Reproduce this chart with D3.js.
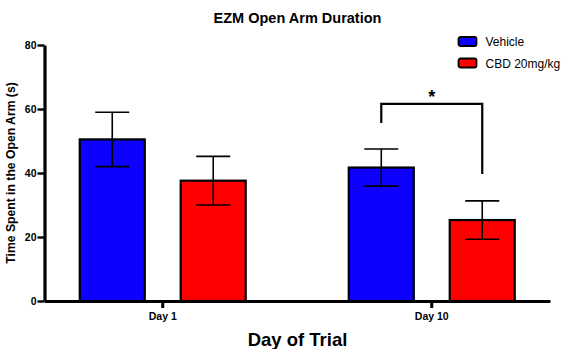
<!DOCTYPE html>
<html>
<head>
<meta charset="utf-8">
<script src="https://cdn.jsdelivr.net/npm/d3@7"></script>
<style>
  html, body { margin: 0; padding: 0; background: #fff; }
  svg { display: block; font-family: "Liberation Sans", Arial, Helvetica, sans-serif; }
</style>
</head>
<body>
<svg id="chart" width="564" height="349"></svg>
<script>
// Chart data
const days = ["Day 1", "Day 10"];
const groups = ["Vehicle", "CBD 20mg/kg"];
const groupColors = ["#0d00ff", "#ff0000"];
const means = [[50.5, 37.6], [41.7, 25.3]];   // [day][group]
const sems  = [[8.5, 7.6], [5.8, 6.0]];
const yTicks = [0, 20, 40, 60, 80];
// Significance bracket on Day 10: top level and the two leg ends
const sigDay = "Day 10";
const sigTop = 61.6;
const sigLegEnds = [55.6, 39.7];
const sigLabel = "*";

const svg = d3.select("#chart");
const m = { left: 44.5, right: 550, top: 45, bottom: 301 };

const y = d3.scaleLinear().domain([0, 80]).range([m.bottom, m.top]);
const x0 = d3.scaleBand().domain(days).range([m.left, m.right]).paddingInner(0.383).paddingOuter(0.131);
const x1 = d3.scaleBand().domain(groups).range([0, x0.bandwidth()]).paddingInner(0.356);

// Bars
const dayG = svg.selectAll("g.day").data(days).enter().append("g")
  .attr("class", "day")
  .attr("transform", d => `translate(${x0(d)},0)`);

dayG.each(function(day, di) {
  const g = d3.select(this);
  groups.forEach((grp, gi) => {
    const bx = x1(grp), bw = x1.bandwidth();
    const v = means[di][gi], e = sems[di][gi];
    g.append("rect")
      .attr("x", bx).attr("y", y(v))
      .attr("width", bw).attr("height", y(0) - y(v))
      .attr("fill", groupColors[gi])
      .attr("stroke", "#000").attr("stroke-width", 2.2);
    const cx = bx + bw / 2, cap = 17;
    const eg = g.append("g").attr("stroke", "#000").attr("stroke-width", 1.6);
    eg.append("line").attr("x1", cx).attr("x2", cx).attr("y1", y(v + e)).attr("y2", y(v - e));
    eg.append("line").attr("x1", cx - cap).attr("x2", cx + cap).attr("y1", y(v + e)).attr("y2", y(v + e));
    eg.append("line").attr("x1", cx - cap).attr("x2", cx + cap).attr("y1", y(v - e)).attr("y2", y(v - e));
  });
});

// Y axis
const yAxis = svg.append("g")
  .attr("transform", `translate(${m.left},0)`)
  .call(d3.axisLeft(y).tickValues(yTicks).tickSize(7).tickSizeOuter(0).tickPadding(1));
yAxis.select(".domain").attr("stroke", "#000").attr("stroke-width", 3.2);
yAxis.selectAll(".tick line").attr("stroke", "#000").attr("stroke-width", 2.4);
yAxis.selectAll(".tick text").attr("fill", "#000").attr("font-size", 10.5).attr("font-weight", "bold")
  .attr("font-family", "Liberation Sans, Arial, sans-serif");

// X axis
const xAxis = svg.append("g")
  .attr("transform", `translate(0,${m.bottom})`)
  .call(d3.axisBottom(x0).tickSize(7).tickSizeOuter(0).tickPadding(5));
xAxis.select(".domain").attr("stroke", "#000").attr("stroke-width", 3.2);
xAxis.selectAll(".tick line").attr("stroke", "#000").attr("stroke-width", 3);
xAxis.selectAll(".tick text").attr("fill", "#000").attr("font-size", 10.5).attr("font-weight", "bold")
  .attr("font-family", "Liberation Sans, Arial, sans-serif");

// Significance bracket
const sx = x0(sigDay);
const lx = sx + x1(groups[0]) + x1.bandwidth() / 2;
const rx = sx + x1(groups[1]) + x1.bandwidth() / 2;
svg.append("path")
  .attr("d", `M${lx},${y(sigLegEnds[0])}V${y(sigTop)}H${rx}V${y(sigLegEnds[1])}`)
  .attr("fill", "none").attr("stroke", "#000").attr("stroke-width", 2.2);
svg.append("text")
  .attr("x", (lx + rx) / 2).attr("y", y(sigTop) - 1)
  .attr("text-anchor", "middle")
  .attr("font-size", 18).attr("font-weight", "bold")
  .text(sigLabel);

// Title
svg.append("text")
  .attr("x", 297.5).attr("y", 22.5)
  .attr("text-anchor", "middle")
  .attr("font-size", 14.5).attr("font-weight", "bold")
  .text("EZM Open Arm Duration");

// Axis titles
svg.append("text")
  .attr("x", 297.5).attr("y", 345.5)
  .attr("text-anchor", "middle")
  .attr("font-size", 18.5).attr("font-weight", "bold")
  .text("Day of Trial");

svg.append("text")
  .attr("transform", `translate(14.5,${(m.top + m.bottom) / 2}) rotate(-90)`)
  .attr("text-anchor", "middle")
  .attr("font-size", 12.2).attr("font-weight", "bold")
  .text("Time Spent in the Open Arm (s)");

// Legend
const legend = svg.append("g").attr("transform", "translate(458.5,37)");
groups.forEach((grp, i) => {
  const row = legend.append("g").attr("transform", `translate(0,${i * 21.5})`);
  row.append("rect")
    .attr("x", 0).attr("y", 0).attr("width", 18).attr("height", 9)
    .attr("rx", 2)
    .attr("fill", groupColors[i]).attr("stroke", "#000").attr("stroke-width", 1.8);
  row.append("text")
    .attr("x", 27).attr("y", 9)
    .attr("font-size", 12)
    .text(grp);
});
</script>
</body>
</html>
